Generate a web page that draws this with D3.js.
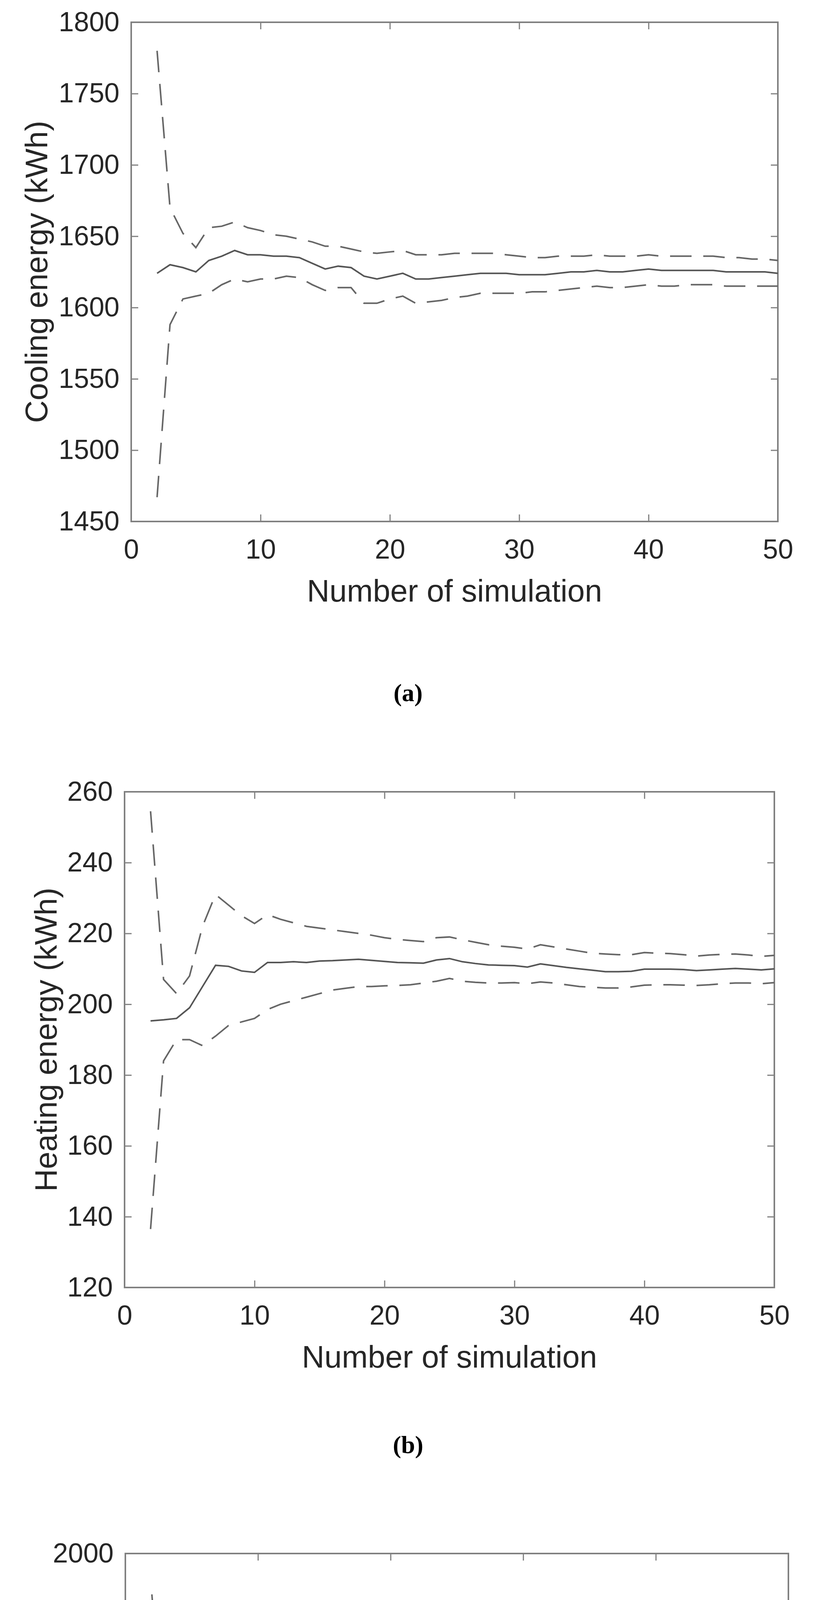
<!DOCTYPE html>
<html>
<head>
<meta charset="utf-8">
<script src="https://cdn.jsdelivr.net/npm/d3@7"></script>
<style>
  body { margin: 0; background: #fff; }
  svg { display: block; }
</style>
</head>
<body>
<svg id="chart" width="2082" height="5780"></svg>
<script>
const xs = d3.range(2, 51);

const coolMean = [1624,1630,1628,1625,1633,1636,1640,1637,1637,1636,1636,1635,1631,1627,1629,1628,1622,1620,1622,1624,1620,1620,1621,1622,1623,1624,1624,1624,1623,1623,1623,1624,1625,1625,1626,1625,1625,1626,1627,1626,1626,1626,1626,1626,1625,1625,1625,1625,1624];
const coolUpper = [1780,1670,1652,1642,1656,1657,1660,1656,1654,1651,1650,1648,1646,1643,1643,1641,1639,1638,1639,1640,1637,1637,1637,1638,1638,1638,1638,1637,1636,1635,1635,1636,1636,1636,1637,1636,1636,1636,1637,1636,1636,1636,1636,1636,1635,1635,1634,1634,1633];
const coolLower = [1467,1588,1606,1608,1610,1616,1620,1618,1620,1620,1622,1621,1616,1612,1614,1614,1603,1603,1606,1608,1603,1604,1605,1607,1608,1610,1610,1610,1610,1611,1611,1612,1613,1614,1615,1614,1614,1615,1616,1615,1615,1616,1616,1616,1615,1615,1615,1615,1615];

const heatMean = [195.3,195.6,196,199,205,211,210.7,209.4,209,211.8,211.8,212,211.8,212.2,212.3,212.5,212.7,212.4,212.1,211.8,211.7,211.6,212.5,212.9,212,211.5,211.1,211,210.9,210.5,211.4,210.9,210.4,210,209.6,209.2,209.2,209.3,209.9,209.9,209.9,209.8,209.5,209.7,209.9,210.1,209.9,209.7,210];
const heatUpper = [254.5,207,203,208,222,231,228,225,222.8,225.3,224,223,222,221.5,221,220.5,220,219.5,218.8,218.3,218,217.7,218.8,219,218.2,217.5,216.8,216.4,216.1,215.6,216.8,216.2,215.6,215,214.4,214.2,214,214,214.6,214.4,214.3,214,213.6,213.9,214.1,214.2,213.9,213.5,213.8];
const heatLower = [136.5,184,190,190,188.3,191,194,195,196,198.5,200,201,202,203,204,204.5,205,205,205.2,205.3,205.5,206,206.5,207.3,206.5,206.2,206,206,206.1,205.8,206.3,206,205.5,205,204.8,204.6,204.6,204.9,205.4,205.5,205.5,205.4,205.3,205.5,205.8,206,206,205.8,206.1];

const totMean = [1831,1832,1828,1829,1840,1842,1845,1842,1842,1841,1842,1840,1837,1834,1835,1833,1827,1826,1828,1829,1826,1827,1827,1829,1830,1831,1831,1831,1830,1830,1831,1832,1833,1833,1834,1834,1834,1835,1836,1835,1835,1836,1836,1836,1835,1835,1835,1835,1835];
const totUpper = [1972,1858,1848,1843,1868,1866,1867,1862,1860,1858,1857,1855,1852,1850,1849,1847,1845,1843,1845,1845,1843,1842,1842,1844,1845,1845,1845,1844,1843,1842,1843,1845,1845,1844,1846,1845,1845,1846,1847,1846,1846,1848,1847,1846,1845,1845,1845,1845,1845];
const totLower = [1690,1805,1807,1815,1810,1816,1823,1822,1824,1824,1826,1825,1821,1819,1821,1820,1810,1809,1812,1813,1810,1811,1812,1814,1815,1816,1817,1817,1817,1817,1818,1820,1821,1821,1822,1822,1822,1823,1825,1824,1824,1825,1825,1825,1824,1824,1824,1824,1824];

const xTicks = [0, 10, 20, 30, 40, 50];

const panels = [
  { label: "Cooling energy (kWh)", tag: "(a)", mean: coolMean, upper: coolUpper, lower: coolLower,
    yDomain: [1450, 1800], yTicks: d3.range(1450, 1801, 50),
    left: 336, right: 1992, top: 57, bottom: 1335, yLabelX: 93, tagY: 1795 },
  { label: "Heating energy (kWh)", tag: "(b)", mean: heatMean, upper: heatUpper, lower: heatLower,
    yDomain: [120, 260], yTicks: d3.range(120, 261, 20),
    left: 319, right: 1983, top: 2027, bottom: 3296, yLabelX: 117, tagY: 3720 },
  { label: "Total energy (kWh)", tag: "(c)", mean: totMean, upper: totUpper, lower: totLower,
    yDomain: [1650, 2000], yTicks: d3.range(1650, 2001, 50),
    left: 321, right: 2019, top: 3977, bottom: 5285, yLabelX: 73, tagY: 5745 }
];

const svg = d3.select("#chart");
const textColor = "#262626";
const axisColor = "#808080";
const font = "Liberation Sans, Arial, sans-serif";

panels.forEach(p => {
  const x = d3.scaleLinear().domain([0, 50]).range([p.left, p.right]);
  const y = d3.scaleLinear().domain(p.yDomain).range([p.bottom, p.top]);
  const g = svg.append("g");

  const styleAxis = sel => {
    sel.select(".domain").remove();
    sel.selectAll("line").attr("stroke", axisColor).attr("stroke-width", 3);
    sel.selectAll("text").attr("fill", textColor).attr("font-family", font).attr("font-size", 70);
  };

  // bottom / left with labels, top / right ticks only (inward)
  g.append("g").attr("transform", `translate(0,${p.bottom})`)
    .call(d3.axisBottom(x).tickValues(xTicks).tickSize(-18).tickPadding(45).tickFormat(d3.format("d")))
    .call(styleAxis);
  g.append("g").attr("transform", `translate(0,${p.top})`)
    .call(d3.axisTop(x).tickValues(xTicks).tickSize(-18).tickFormat(""))
    .call(styleAxis);
  g.append("g").attr("transform", `translate(${p.left},0)`)
    .call(d3.axisLeft(y).tickValues(p.yTicks).tickSize(-18).tickPadding(30).tickFormat(d3.format("d")))
    .call(styleAxis);
  g.append("g").attr("transform", `translate(${p.right},0)`)
    .call(d3.axisRight(y).tickValues(p.yTicks).tickSize(-18).tickFormat(""))
    .call(styleAxis);

  g.append("rect")
    .attr("x", p.left).attr("y", p.top)
    .attr("width", p.right - p.left).attr("height", p.bottom - p.top)
    .attr("fill", "none").attr("stroke", axisColor).attr("stroke-width", 4);

  const line = vals => d3.line().x((d, i) => x(xs[i])).y(d => y(d))(vals);

  g.append("path").attr("d", line(p.mean))
    .attr("fill", "none").attr("stroke", "#555").attr("stroke-width", 4);
  [p.upper, p.lower].forEach(v => {
    g.append("path").attr("d", line(v))
      .attr("fill", "none").attr("stroke", "#666").attr("stroke-width", 4)
      .attr("stroke-dasharray", "55,30");
  });

  g.append("text")
    .attr("x", (p.left + p.right) / 2).attr("y", p.bottom + 205)
    .attr("text-anchor", "middle").attr("fill", textColor)
    .attr("font-family", font).attr("font-size", 80)
    .text("Number of simulation");

  g.append("text")
    .attr("transform", `translate(${p.yLabelX},${(p.top + p.bottom) / 2}) rotate(-90)`)
    .attr("text-anchor", "middle").attr("dominant-baseline", "central")
    .attr("fill", textColor).attr("font-family", font).attr("font-size", 80)
    .text(p.label);

  g.append("text")
    .attr("x", 1045).attr("y", p.tagY)
    .attr("text-anchor", "middle").attr("fill", "#000")
    .attr("font-family", "Liberation Serif, Times New Roman, serif")
    .attr("font-weight", "bold").attr("font-size", 64)
    .text(p.tag);
});
</script>
</body>
</html>
